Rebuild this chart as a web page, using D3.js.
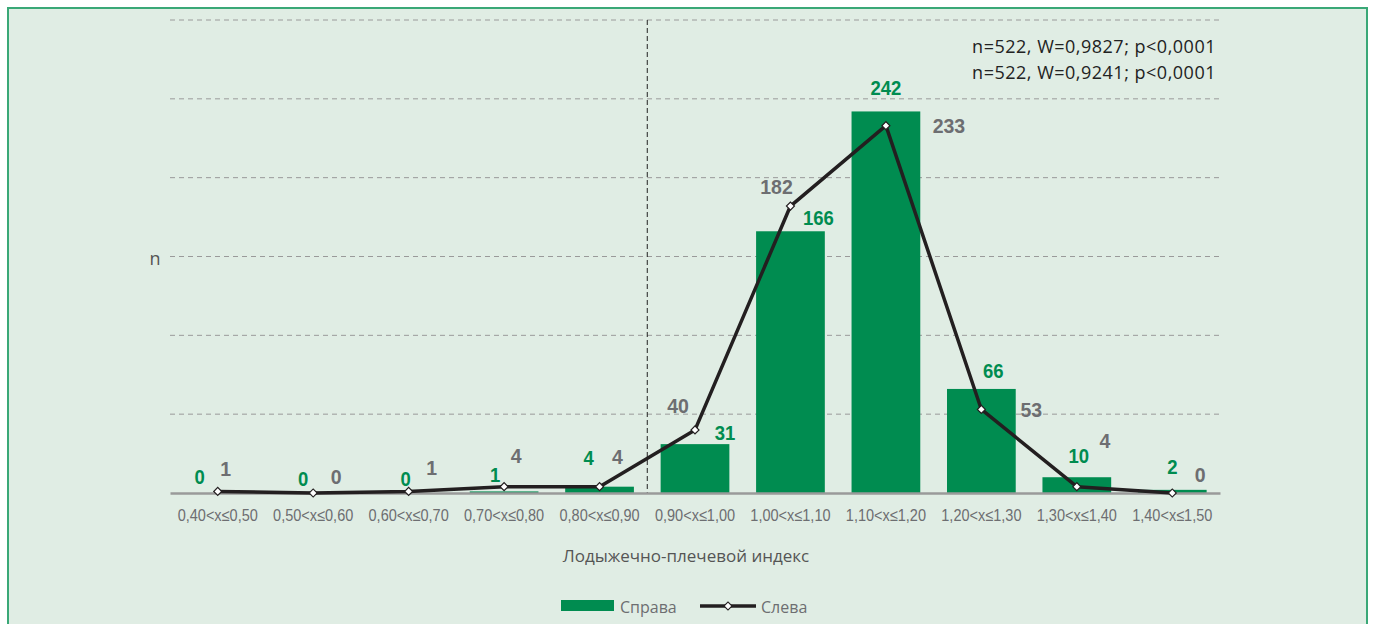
<!DOCTYPE html>
<html>
<head>
<meta charset="utf-8">
<script src="https://cdn.jsdelivr.net/npm/d3@7"></script>
<style>
  body { margin: 0; background: #fff; }
  svg { display: block; }
</style>
</head>
<body>
<svg width="1375" height="624"></svg>
<script>
// categories on the x axis
const categories = ['0,40<x≤0,50', '0,50<x≤0,60', '0,60<x≤0,70', '0,70<x≤0,80', '0,80<x≤0,90',
  '0,90<x≤1,00', '1,00<x≤1,10', '1,10<x≤1,20', '1,20<x≤1,30', '1,30<x≤1,40', '1,40<x≤1,50']
// bars (Справа)
const rightValues = [0, 0, 0, 1, 4, 31, 166, 242, 66, 10, 2]
// line (Слева)
const leftValues = [1, 0, 1, 4, 4, 40, 182, 233, 53, 4, 0]
// grid values
const yTicks = [50, 100, 150, 200, 250, 300]
const statLines = ['n=522, W=0,9827; p<0,0001', 'n=522, W=0,9241; p<0,0001']

// label nudges in px, relative to the bar/point
const rightLabelDx = [-18, -10, -3, -9, -11, 30, 28, 0, 12, 2, 0]
const rightLabelDy = [-9, -7, -7, -9, -22, -4, -6, -16, -11, -14, -16]
const leftLabelDx = [8, 23, 23, 12, 18, -17, -14, 63, 50, 28, 28]
const leftLabelDy = [-15, -9, -16, -24, -23, -17, -12, 7, 8, -39, -11]

const green = '#008c50'
const grey = '#6d6e71'
const numFont = '"Liberation Sans", Arial, sans-serif'
const textFont = '"Open Sans", sans-serif'

const svg = d3.select('svg')
const width = +svg.attr('width')
const height = +svg.attr('height')

// panel (border on three sides, bottom runs off the page)
svg.append('rect')
  .attr('x', 8).attr('y', 8)
  .attr('width', 1359).attr('height', height - 8)
  .attr('fill', '#e0ede4')
svg.append('path')
  .attr('d', `M8,${height} V8 H1367 V${height}`)
  .attr('fill', 'none')
  .attr('stroke', '#3aa877')
  .attr('stroke-width', 2)

const margin = { top: 20, right: 155, bottom: 131, left: 170 }
const innerWidth = width - margin.left - margin.right
const innerHeight = 493 - margin.top

const g = svg.append('g')
  .attr('transform', `translate(${margin.left}, ${margin.top})`)

const xScale = d3.scaleBand()
  .domain(categories)
  .range([0, innerWidth])
  .paddingInner(0.28)
  .paddingOuter(0.14)

const yScale = d3.scaleLinear()
  .domain([0, 300])
  .range([innerHeight, 0])

const cx = d => xScale(d) + xScale.bandwidth() / 2

// dashed gridlines
g.append('g')
  .selectAll('line')
  .data(yTicks)
  .enter().append('line')
    .attr('x1', 0).attr('x2', innerWidth)
    .attr('y1', d => yScale(d)).attr('y2', d => yScale(d))
    .attr('stroke', '#9a9a9a')
    .attr('stroke-width', 1)
    .attr('stroke-dasharray', '5,4')

// bars
g.selectAll('rect.bar')
  .data(rightValues)
  .enter().append('rect')
    .attr('class', 'bar')
    .attr('x', (d, i) => xScale(categories[i]))
    .attr('width', xScale.bandwidth())
    .attr('y', d => yScale(d))
    .attr('height', d => innerHeight - yScale(d))
    .attr('fill', green)

// vertical dashed divider between 0,80-0,90 and 0,90-1,00
const divX = (xScale(categories[4]) + xScale.bandwidth() + xScale(categories[5])) / 2
g.append('line')
  .attr('x1', divX).attr('x2', divX)
  .attr('y1', 0).attr('y2', innerHeight)
  .attr('stroke', '#222')
  .attr('stroke-width', 1)
  .attr('stroke-dasharray', '5,3')

// bottom axis, labels squeezed to look condensed
const xAxis = g.append('g')
  .attr('transform', `translate(0, ${innerHeight})`)
  .call(d3.axisBottom(xScale).tickSize(0).tickPadding(16))
xAxis.select('.domain')
  .attr('stroke', '#9a9a9a')
  .attr('stroke-width', 2.5)
xAxis.selectAll('text')
  .attr('fill', grey)
  .attr('transform', 'scale(0.88,1)')
  .style('font-family', numFont)
  .style('font-size', '16.5px')

// line
const line = d3.line()
  .x((d, i) => cx(categories[i]))
  .y(d => yScale(d))

g.append('path')
  .datum(leftValues)
  .attr('d', line)
  .attr('fill', 'none')
  .attr('stroke', '#231f20')
  .attr('stroke-width', 3.5)
  .attr('stroke-linejoin', 'round')

const diamond = d3.symbol().type(d3.symbolSquare).size(32)
g.selectAll('path.marker')
  .data(leftValues)
  .enter().append('path')
    .attr('class', 'marker')
    .attr('d', diamond)
    .attr('transform', (d, i) => `translate(${cx(categories[i])}, ${yScale(d)}) rotate(45)`)
    .attr('fill', '#fff')
    .attr('stroke', '#231f20')
    .attr('stroke-width', 1.2)

// value labels
function drawLabels(values, dxs, dys, color, size, sx) {
  g.append('g')
    .selectAll('g')
    .data(values)
    .enter().append('g')
      .attr('transform', (d, i) => `translate(${cx(categories[i]) + dxs[i]}, ${yScale(d) + dys[i]})`)
    .append('text')
      .attr('transform', `scale(${sx},1)`)
      .attr('text-anchor', 'middle')
      .attr('fill', color)
      .style('font-family', numFont)
      .style('font-weight', 'bold')
      .style('font-size', size)
      .text(d => d)
}
drawLabels(rightValues, rightLabelDx, rightLabelDy, green, '19.5px', 0.95)
drawLabels(leftValues, leftLabelDx, leftLabelDy, grey, '19.5px', 1)

// y label
svg.append('text')
  .attr('x', 155).attr('y', 265)
  .attr('text-anchor', 'middle')
  .attr('fill', '#555')
  .style('font-family', textFont)
  .style('font-size', '18px')
  .text('n')

// axis title
svg.append('text')
  .attr('x', 686).attr('y', 562)
  .attr('text-anchor', 'middle')
  .attr('fill', '#555')
  .style('font-family', textFont)
  .style('font-size', '17px')
  .text('Лодыжечно-плечевой индекс')

// statistics text
svg.selectAll('text.stat')
  .data(statLines)
  .enter().append('text')
    .attr('class', 'stat')
    .attr('x', 1216)
    .attr('y', (d, i) => 53 + i * 26)
    .attr('text-anchor', 'end')
    .attr('fill', '#222')
    .style('font-family', textFont)
    .style('font-size', '18px')
    .style('letter-spacing', '0.5px')
    .text(d => d)

// legend
const legend = svg.append('g')
legend.append('rect')
  .attr('x', 561).attr('y', 600)
  .attr('width', 53).attr('height', 11)
  .attr('fill', green)
legend.append('text')
  .attr('x', 620).attr('y', 613)
  .attr('fill', grey)
  .style('font-family', textFont)
  .style('font-size', '16px')
  .text('Справа')
legend.append('line')
  .attr('x1', 700).attr('x2', 756)
  .attr('y1', 606).attr('y2', 606)
  .attr('stroke', '#231f20')
  .attr('stroke-width', 3.5)
legend.append('path')
  .attr('d', diamond)
  .attr('transform', 'translate(728, 606) rotate(45)')
  .attr('fill', '#fff')
  .attr('stroke', '#231f20')
  .attr('stroke-width', 1.2)
legend.append('text')
  .attr('x', 761).attr('y', 613)
  .attr('fill', grey)
  .style('font-family', textFont)
  .style('font-size', '16px')
  .text('Слева')
</script>
</body>
</html>
